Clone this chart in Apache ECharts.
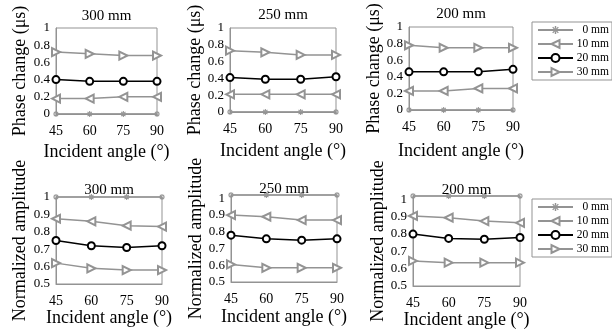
<!DOCTYPE html>
<html><head><meta charset="utf-8">
<script src="https://cdn.jsdelivr.net/npm/echarts@6/dist/echarts.min.js"></script>
<style>html,body{margin:0;padding:0;background:#fff}#c{width:612px;height:332px}</style>
</head><body><div id="c"></div><script>
// ---- data ----
const angles = [45, 60, 75, 90];
const depths = ['0 mm', '10 mm', '20 mm', '30 mm'];
const panelTitles = ['300 mm', '250 mm', '200 mm', '300 mm', '250 mm', '200 mm'];
const phase300 = [[0, 0, 0, 0], [0.18, 0.18, 0.20, 0.20], [0.40, 0.38, 0.38, 0.38], [0.72, 0.70, 0.68, 0.68]];
const phase250 = [[0, 0, 0, 0], [0.21, 0.21, 0.21, 0.21], [0.41, 0.39, 0.39, 0.42], [0.73, 0.71, 0.68, 0.68]];
const phase200 = [[0, 0, 0, 0], [0.23, 0.23, 0.26, 0.26], [0.46, 0.46, 0.46, 0.49], [0.78, 0.75, 0.75, 0.75]];
const amp300 = [[1, 1, 1, 1], [0.875, 0.86, 0.835, 0.83], [0.75, 0.72, 0.71, 0.72], [0.62, 0.59, 0.58, 0.58]];
const amp250 = [[1.02, 1.02, 1.02, 1.02], [0.90, 0.89, 0.87, 0.87], [0.78, 0.758, 0.75, 0.758], [0.605, 0.585, 0.585, 0.585]];
const amp200 = [[1.02, 1.02, 1.02, 1.02], [0.905, 0.895, 0.875, 0.865], [0.80, 0.775, 0.77, 0.78], [0.645, 0.635, 0.635, 0.635]];
const panelData = [phase300, phase250, phase200, amp300, amp250, amp200];

// ---- layout / style ----
const FONT = '"Liberation Serif", "Times New Roman", serif';
const GRAY = '#939393';
const grids = [
  {left: 56, top: 28, width: 101, height: 86},
  {left: 230, top: 28, width: 106, height: 84},
  {left: 409, top: 27, width: 104, height: 83},
  {left: 56, top: 197, width: 106, height: 87},
  {left: 231, top: 195, width: 106, height: 87},
  {left: 413, top: 196, width: 107, height: 90}
];
const yNameGap = [27, 23, 24, 27, 24, 23];
const xNameGap = [29, 30, 32, 24, 26, 22];
const titleCenterY = [17, 16, 15, 191, 190, 191];
const asterisk = 'path://M-5,-0.9L5,-0.9L5,0.9L-5,0.9Z M-0.9,-5L0.9,-5L0.9,5L-0.9,5Z M-4.1,-2.97L2.97,4.1L4.1,2.97L-2.97,-4.1Z M-4.1,2.97L-2.97,4.1L4.1,-2.97L2.97,-4.1Z';
const seriesStyle = [
  {symbol: asterisk, symbolSize: 6, symbolRotate: 0, color: GRAY},
  {symbol: 'emptyTriangle', symbolSize: 8, symbolRotate: 90, color: GRAY},
  {symbol: 'emptyCircle', symbolSize: 7, symbolRotate: 0, color: '#000'},
  {symbol: 'emptyTriangle', symbolSize: 8, symbolRotate: -90, color: GRAY}
];

const option = {
  animation: false,
  backgroundColor: '#fff',
  textStyle: {fontFamily: FONT, color: '#000'},
  grid: grids.map(g => Object.assign({show: true, borderColor: GRAY, borderWidth: 1, backgroundColor: 'transparent'}, g)),
  title: grids.map((g, i) => ({
    text: panelTitles[i], left: g.left + g.width / 2, top: titleCenterY[i] - 8, textAlign: 'center', padding: 0,
    textStyle: {fontFamily: FONT, fontSize: 15, fontWeight: 'normal', color: '#000'}
  })),
  xAxis: grids.map((g, i) => ({
    type: 'value', gridIndex: i, min: 45, max: 90, interval: 15,
    name: 'Incident angle (°)', nameLocation: 'middle', nameGap: xNameGap[i],
    nameTextStyle: {fontFamily: FONT, fontSize: 18, color: '#000'},
    axisLine: {show: true, lineStyle: {color: GRAY}}, axisTick: {show: false}, splitLine: {show: false},
    axisLabel: {fontFamily: FONT, fontSize: 14, color: '#000', margin: 10}
  })),
  yAxis: grids.map((g, i) => {
    const top = i < 3;
    return {
      type: 'value', gridIndex: i, min: top ? 0 : 0.5, max: top ? 1 : (i === 3 ? 1 : 1.02), interval: top ? 0.2 : 0.1,
      name: top ? 'Phase change (μs)' : 'Normalized amplitude', nameLocation: 'middle', nameGap: yNameGap[i],
      nameTextStyle: {fontFamily: FONT, fontSize: 18, color: '#000'},
      axisLine: {show: true, lineStyle: {color: GRAY}}, axisTick: {show: false}, splitLine: {show: false},
      axisLabel: {fontFamily: FONT, fontSize: 13, color: '#000', margin: 6, showMaxLabel: (i === 4 || i === 5) ? false : true,
        formatter: v => String(Math.round(v * 100) / 100)}
    };
  }),
  legend: [22, 199].map(t => ({
    orient: 'vertical', left: 532, top: t, padding: [2, 3, 2, 5], itemGap: 2, itemWidth: 35, itemHeight: 10,
    borderColor: GRAY, borderWidth: 1, data: depths, symbolRotate: 'inherit',
    formatter: n => '{r|' + n + '}',
    textStyle: {fontFamily: FONT, fontSize: 11.5, color: '#000', rich: {r: {width: 31, align: 'right', fontFamily: FONT, fontSize: 11.5, height: 14}}}
  })),
  series: []
};

panelData.forEach((pd, p) => {
  pd.forEach((vals, k) => {
    const st = seriesStyle[k];
    option.series.push({
      type: 'line', name: depths[k], xAxisIndex: p, yAxisIndex: p,
      data: angles.map((a, j) => [a, vals[j]]),
      symbol: st.symbol, symbolSize: st.symbolSize, symbolRotate: st.symbolRotate, clip: false,
      lineStyle: {color: st.color, width: 1.5},
      itemStyle: {color: st.color, borderColor: st.color, borderWidth: k === 0 ? 0 : 1.3},
      z: k === 2 ? 3 : 2
    });
  });
});

const chart = echarts.init(document.getElementById('c'), null, {renderer: 'canvas'});
chart.setOption(option);
</script></body></html>
